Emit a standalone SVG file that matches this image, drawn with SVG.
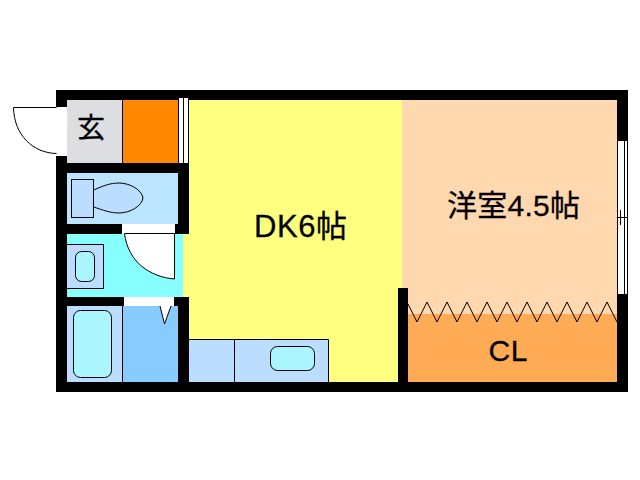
<svg xmlns="http://www.w3.org/2000/svg" width="640" height="480" viewBox="0 0 640 480">
<style>
.l{stroke:#000;stroke-width:1;fill:none}
.f{stroke:#000;stroke-width:1}
.b{fill:#bbddff}
.c{fill:#aaf5ff}
.t{font-family:"Liberation Sans","Noto Sans CJK JP",sans-serif;fill:#000;stroke:#000;stroke-width:.3}
.j{font-family:"Noto Sans CJK JP","Liberation Sans",sans-serif;fill:#000;stroke:#000;stroke-width:.3}
</style>
<rect width="640" height="480" fill="#fff"/>
<g id="walls"><rect x="56" y="90" width="572" height="302" fill="#000"/></g>
<g id="dk"><rect x="189" y="100" width="214" height="282" fill="#ffff80"/><rect x="183" y="234" width="6" height="63" fill="#ffff80"/></g>
<g id="room"><rect x="402" y="100" width="215" height="214" fill="#ffd8b0"/></g>
<g id="entry"><rect x="67" y="100" width="55" height="63" fill="#dcdee2"/><text x="91" y="138" class="j" font-size="28" text-anchor="middle">玄</text></g>
<g id="closet-small"><rect x="123" y="100" width="55" height="63" fill="#ff8800"/></g>
<g id="window-small"><rect x="178" y="97" width="11" height="66" fill="#fff"/><path class="l" d="M178.500 97V163M183.500 97V163M188.500 97V163M178 97.500H189"/></g>
<g id="toilet"><rect x="67" y="173" width="111" height="51" fill="#bbe4ff"/>
<rect class="f b" x="71.500" y="179.500" width="22" height="38"/>
<path class="f b" d="M93.500 190C103 186 110 183 119 183C130 183 142 190 143 198C142 206 130 213 119 213C110 213 103 210 93.500 207Z"/></g>
<g id="washroom"><rect x="67" y="234" width="116" height="63" fill="#88ffff"/>
<rect class="f b" x="66.500" y="244.500" width="37" height="44"/>
<rect class="f c" x="75.500" y="251.500" width="19" height="30" rx="6"/>
<rect x="122" y="224" width="53" height="10" fill="#fff"/>
<path class="f" fill="#fff" d="M124.500 233.500H174.500V279C150 277 128 262 124.500 233.500Z"/></g>
<g id="bath"><rect x="67" y="306" width="56" height="76" class="b"/><rect x="123" y="306" width="55" height="76" fill="#88ccff"/>
<path class="l" d="M122.500 306V382"/>
<rect class="f c" x="73.500" y="310.500" width="38" height="67" rx="7"/>
<rect x="124" y="297" width="50" height="9" fill="#fff"/>
<path class="f" fill="#fff" d="M160 306L164.500 324L171 306"/></g>
<g id="kitchen"><rect x="189" y="339.500" width="140" height="42.500" class="b"/>
<path class="l" d="M189 339.500H328.500V382M234.500 339.500V382"/>
<rect class="f c" x="270.500" y="346.500" width="44" height="24" rx="7"/></g>
<g id="closet"><rect x="408" y="314" width="209" height="68" fill="#ffaa55"/><rect x="398" y="288" width="10" height="94" fill="#000"/>
<path class="l" d="M408 304L417 322L427 302L437 322L447 302L457 322L467 302L477 322L487 302L497 322L507 302L517 322L527 302L537 322L547 302L557 322L567 302L577 322L587 302L597 322L607 302L617 322"/>
<text x="508" y="361" class="t" font-size="30" text-anchor="middle" textLength="39">CL</text></g>
<g id="window-right"><rect x="617" y="141" width="11" height="153" fill="#fff"/><path class="l" d="M617.500 141V294M624.500 141V294M627.500 141V294M617 217.500H628M620.500 210V225M624.500 209V217"/></g>
<g id="entry-door"><rect x="56" y="107" width="11" height="49" fill="#fff"/>
<path class="l" d="M13.500 107.500H56.500M13.500 107.500C14 135 33 153 56.500 153.500"/></g>
<g id="labels"><text x="300.500" y="237" class="t" font-size="31" text-anchor="middle" textLength="93">DK6帖</text>
<text x="513.500" y="216" class="t" font-size="30" text-anchor="middle" textLength="133">洋室4.5帖</text></g>
</svg>
